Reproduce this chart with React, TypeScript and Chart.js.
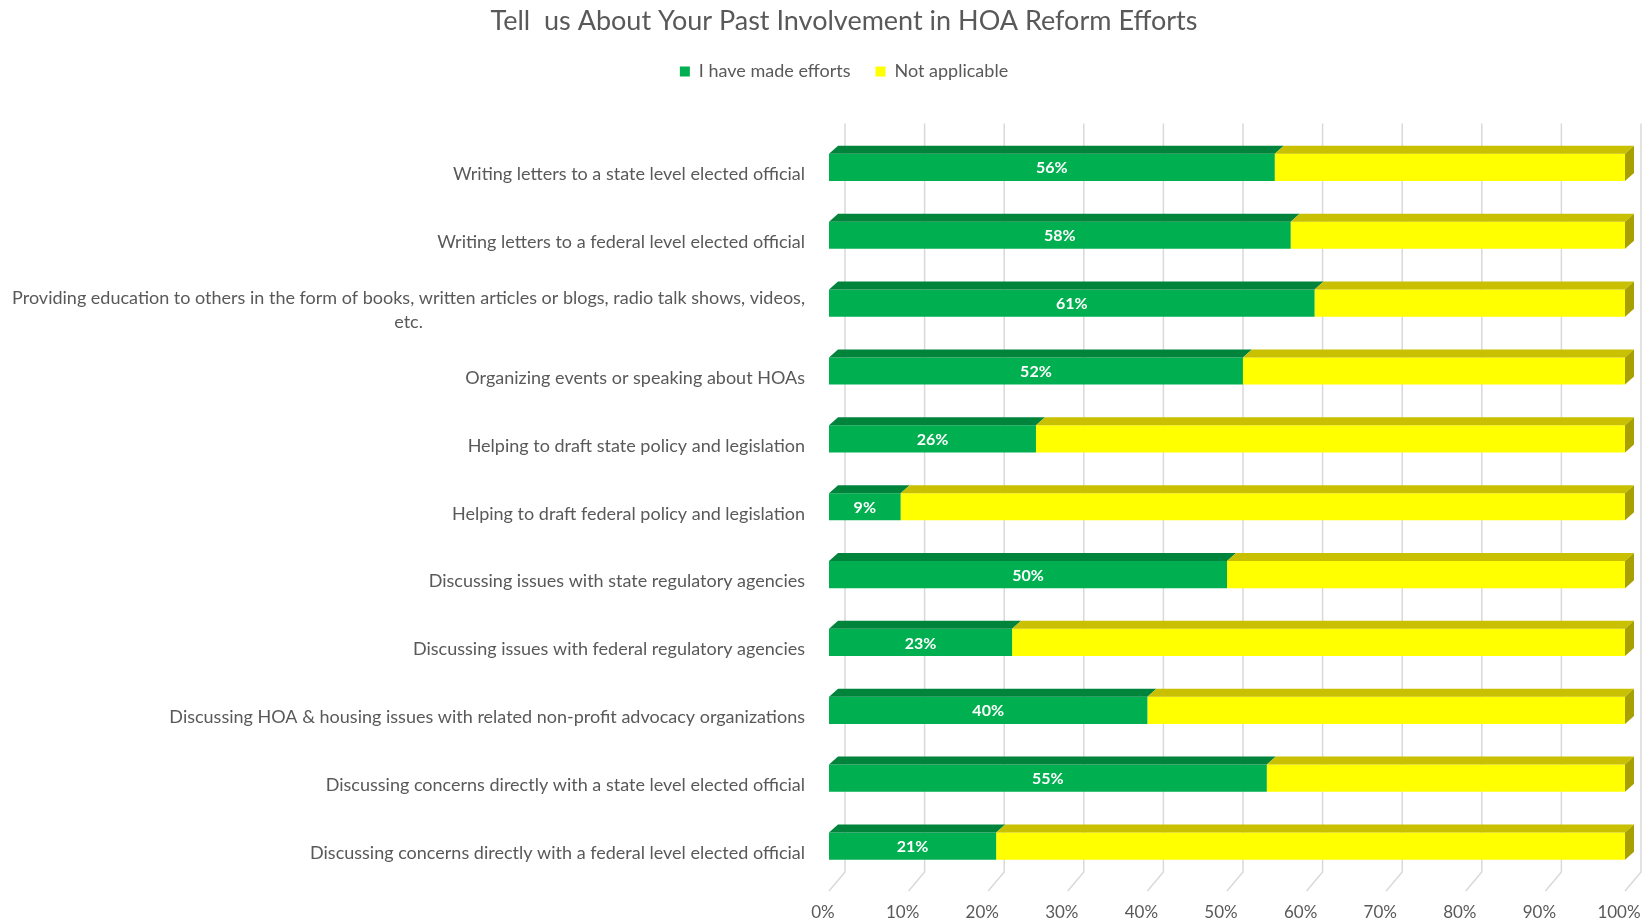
import React, { useEffect, useRef } from "react";
import { Chart, registerables } from "chart.js";

Chart.register(...registerables);

const TITLE = "Tell  us About Your Past Involvement in HOA Reform Efforts";

const categories: (string | string[])[] = [
  "Writing letters to a state level elected official",
  "Writing letters to a federal level elected official",
  [
    "Providing education to others in the form of books, written articles or blogs, radio talk shows, videos,",
    "etc.",
  ],
  "Organizing events or speaking about HOAs",
  "Helping to draft state policy and legislation",
  "Helping to draft federal policy and legislation",
  "Discussing issues with state regulatory agencies",
  "Discussing issues with federal regulatory agencies",
  "Discussing HOA & housing issues with related non-profit advocacy organizations",
  "Discussing concerns directly with a state level elected official",
  "Discussing concerns directly with a federal level elected official",
];

const seriesNames = ["I have made efforts", "Not applicable"];
const madeEfforts = [56, 58, 61, 52, 26, 9, 50, 23, 40, 55, 21];
const notApplicable = [44, 42, 39, 48, 74, 91, 50, 77, 60, 45, 79];
const xTickValues = [0, 10, 20, 30, 40, 50, 60, 70, 80, 90, 100];

const FONT = "Lato, 'Open Sans', sans-serif";
const TEXT = "#595959";
const frontColors = ["#00B050", "#FFFF00"];
const topColors = ["#00843C", "#C8C000"];
const sideColors = ["#007034", "#A8A000"];
const DX = 9;
const DY = 8;
const GRID_DX = 16;

const legendSpacer = {
  id: "legendSpacer",
  beforeInit(chart: any) {
    const legend = chart.legend;
    if (!legend) return;
    const orig = legend.fit;
    legend.fit = function () {
      orig.bind(legend)();
      this.height += 43;
    };
  },
};

const threeD = {
  id: "threeD",
  beforeDatasetsDraw(chart: any) {
    const { ctx, chartArea, scales } = chart;
    const x = scales.x;
    ctx.save();
    ctx.strokeStyle = "#d9d9d9";
    ctx.lineWidth = 1.5;
    const top = chartArea.top - 10;
    const backBottom = chartArea.bottom - 8;
    const frontBottom = chartArea.bottom + 11;
    xTickValues.forEach((v) => {
      const px = x.getPixelForValue(v);
      ctx.beginPath();
      ctx.moveTo(px + GRID_DX, top);
      ctx.lineTo(px + GRID_DX, backBottom);
      ctx.lineTo(px, frontBottom);
      ctx.stroke();
    });
    ctx.restore();
  },
  afterDatasetsDraw(chart: any) {
    const { ctx } = chart;
    const n = chart.data.datasets.length;
    ctx.save();
    for (let di = 0; di < n; di++) {
      const meta = chart.getDatasetMeta(di);
      meta.data.forEach((bar: any) => {
        const { x, y, base, height } = bar.getProps(["x", "y", "base", "height"], true);
        const t = y - height / 2;
        const b = y + height / 2;
        ctx.fillStyle = topColors[di];
        ctx.beginPath();
        ctx.moveTo(base, t);
        ctx.lineTo(x, t);
        ctx.lineTo(x + DX, t - DY);
        ctx.lineTo(base + DX, t - DY);
        ctx.closePath();
        ctx.fill();
        if (di === n - 1) {
          ctx.fillStyle = sideColors[di];
          ctx.beginPath();
          ctx.moveTo(x, t);
          ctx.lineTo(x + DX, t - DY);
          ctx.lineTo(x + DX, b - DY);
          ctx.lineTo(x, b);
          ctx.closePath();
          ctx.fill();
        }
      });
    }
    const meta0 = chart.getDatasetMeta(0);
    ctx.fillStyle = "#ffffff";
    ctx.font = `bold 16px ${FONT}`;
    ctx.textAlign = "center";
    ctx.textBaseline = "middle";
    meta0.data.forEach((bar: any, i: number) => {
      const { x, y, base } = bar.getProps(["x", "y", "base"], true);
      ctx.fillText(madeEfforts[i] + "%", (x + base) / 2, y + 1);
    });
    ctx.restore();
  },
  afterDraw(chart: any) {
    const { ctx, scales } = chart;
    const yScale = scales.y;
    const right = 805;
    ctx.save();
    ctx.fillStyle = TEXT;
    ctx.font = `18px ${FONT}`;
    ctx.textBaseline = "middle";
    categories.forEach((label, i) => {
      const cy = yScale.getPixelForValue(i) + 7;
      const lines = Array.isArray(label) ? label : [label];
      const lh = 24;
      const widths = lines.map((l) => ctx.measureText(l).width);
      const maxW = Math.max(...widths);
      const center = right - maxW / 2;
      lines.forEach((l, li) => {
        const ly = cy + (li - (lines.length - 1) / 2) * lh;
        ctx.textAlign = "center";
        ctx.fillText(l, center, ly);
      });
    });
    ctx.restore();
  },
};

export default function App() {
  const ref = useRef<HTMLCanvasElement | null>(null);
  useEffect(() => {
    if (!ref.current) return;
    const chart = new Chart(ref.current, {
      type: "bar",
      data: {
        labels: categories.map((c) => (Array.isArray(c) ? c.join(" ") : c)),
        datasets: [
          {
            label: seriesNames[0],
            data: madeEfforts,
            backgroundColor: frontColors[0],
            borderWidth: 0,
            barPercentage: 0.4,
            categoryPercentage: 1,
          },
          {
            label: seriesNames[1],
            data: notApplicable,
            backgroundColor: frontColors[1],
            borderWidth: 0,
            barPercentage: 0.4,
            categoryPercentage: 1,
          },
        ],
      },
      options: {
        indexAxis: "y",
        animation: false,
        responsive: true,
        maintainAspectRatio: false,
        layout: { padding: { left: 63, right: 19, top: 0, bottom: 2 } },
        scales: {
          x: {
            stacked: true,
            min: 0,
            max: 100,
            grid: { display: false, drawTicks: false },
            border: { display: false },
            ticks: {
              stepSize: 10,
              padding: 22,
              labelOffset: -6,
              color: TEXT,
              font: { family: FONT, size: 17 },
              maxRotation: 0,
              autoSkip: false,
              callback: (v: any) => v + "%",
            },
            afterFit: (s: any) => {
              s.height = 40;
              s.paddingLeft = 0;
              s.paddingRight = 0;
            },
          },
          y: {
            stacked: true,
            grid: { display: false, drawTicks: false },
            border: { display: false },
            ticks: { display: false },
            afterFit: (s: any) => {
              s.width = 766;
              s.paddingTop = 0;
              s.paddingBottom = 0;
            },
          },
        },
        plugins: {
          title: {
            display: true,
            text: TITLE,
            color: TEXT,
            font: { family: FONT, size: 27, weight: "normal" },
            padding: { top: 5, bottom: 0 },
          },
          legend: {
            display: true,
            position: "top",
            labels: {
              boxWidth: 10,
              boxHeight: 10,
              padding: 25,
              color: TEXT,
              font: { family: FONT, size: 18 },
            },
          },
          tooltip: { enabled: false },
        },
      },
      plugins: [legendSpacer, threeD],
    } as any);
    return () => chart.destroy();
  }, []);
  return (
    <div style={{ position: "absolute", left: 0, top: 0, width: 1644, height: 922 }}>
      <canvas ref={ref} />
    </div>
  );
}
